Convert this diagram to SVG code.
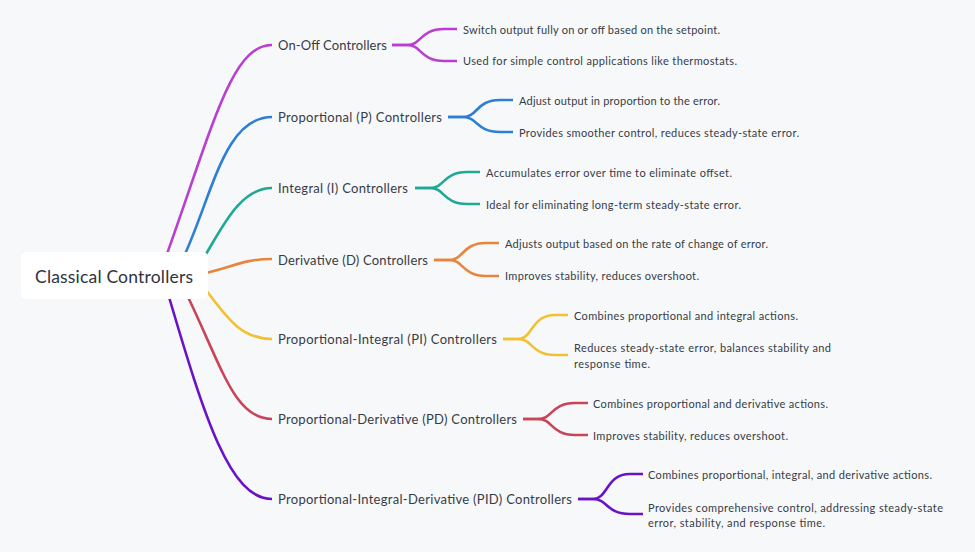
<svg xmlns="http://www.w3.org/2000/svg" width="975" height="552" viewBox="0 0 975 552">
  <style>
    .c { fill: none; stroke-width: 2.6; stroke-linecap: butt; stroke-linejoin: round; }
    .t1 { font-family: Lato, "Liberation Sans", sans-serif; font-size: 13px; fill: #363c47; dominant-baseline: central; }
    .t2 { font-family: Lato, "Liberation Sans", sans-serif; font-size: 11px; fill: #363c47; dominant-baseline: central; }
    .root { font-family: Lato, "Liberation Sans", sans-serif; font-size: 17.5px; fill: #2e343e; dominant-baseline: central; }
    .pu { stroke: #B93FD0; }
    .bl { stroke: #2E7FD4; }
    .te { stroke: #1FA896; }
    .or { stroke: #E8853D; }
    .ye { stroke: #F2C131; }
    .re { stroke: #C94458; }
    .dp { stroke: #6A12C6; }
  </style>
  <rect x="0" y="0" width="975" height="552" fill="#F7F8FA"/>
  <g id="connectors">
    <path class="c pu" d="M167,254 C214,122 232,45 272,45"/>
    <path class="c bl" d="M185,254 C213,192 225,117 272,117"/>
    <path class="c te" d="M206,254 C222,228 240,188 272,188"/>
    <path class="c or" d="M206,273 C235,266 245,259 272,259"/>
    <path class="c ye" d="M206,290 C225,315 240,339 272,339"/>
    <path class="c re" d="M188,297 C223,370 235,419 272,419"/>
    <path class="c dp" d="M169,297 C205,419 230,499 272,499"/>

    <path class="c pu" d="M392,45 L407,45 C422,45 420,29 444,29 L457,29"/>
    <path class="c pu" d="M392,45 L407,45 C422,45 420,61 444,61 L457,61"/>
    <path class="c bl" d="M448,117 L463,117 C478,117 476,100 500,100 L513,100"/>
    <path class="c bl" d="M448,117 L463,117 C478,117 476,132 500,132 L513,132"/>
    <path class="c te" d="M415,188 L430,188 C445,188 443,172 467,172 L480,172"/>
    <path class="c te" d="M415,188 L430,188 C445,188 443,204 467,204 L480,204"/>
    <path class="c or" d="M434,260 L449,260 C464,260 462,243 486,243 L499,243"/>
    <path class="c or" d="M434,260 L449,260 C464,260 462,276 486,276 L499,276"/>
    <path class="c ye" d="M503,339 L518,339 C533,339 531,315 555,315 L568,315"/>
    <path class="c ye" d="M503,339 L518,339 C533,339 531,355 555,355 L568,355"/>
    <path class="c re" d="M523,419 L538,419 C553,419 551,403 575,403 L588,403"/>
    <path class="c re" d="M523,419 L538,419 C553,419 551,435 575,435 L588,435"/>
    <path class="c dp" d="M578,499 L593,499 C608,499 606,474 630,474 L643,474"/>
    <path class="c dp" d="M578,499 L593,499 C608,499 606,514 630,514 L643,514"/>
  </g>

  <g id="root">
    <rect x="21" y="252" width="187" height="47" rx="5" fill="#FFFFFF"/>
    <text class="root" x="35" y="276" textLength="158">Classical Controllers</text>
  </g>

  <g id="onoff">
    <text class="t1" x="278" y="45" textLength="109">On-Off Controllers</text>
  </g>
  <g id="onoff-1"><text class="t2" x="463" y="29" textLength="257">Switch output fully on or off based on the setpoint.</text></g>
  <g id="onoff-2"><text class="t2" x="463" y="60" textLength="274">Used for simple control applications like thermostats.</text></g>

  <g id="p">
    <text class="t1" x="278" y="117" textLength="164">Proportional (P) Controllers</text>
  </g>
  <g id="p-1"><text class="t2" x="519" y="100" textLength="201">Adjust output in proportion to the error.</text></g>
  <g id="p-2"><text class="t2" x="519" y="132" textLength="280">Provides smoother control, reduces steady-state error.</text></g>

  <g id="i">
    <text class="t1" x="278" y="188" textLength="130">Integral (I) Controllers</text>
  </g>
  <g id="i-1"><text class="t2" x="486" y="172" textLength="246">Accumulates error over time to eliminate offset.</text></g>
  <g id="i-2"><text class="t2" x="486" y="204" textLength="255">Ideal for eliminating long-term steady-state error.</text></g>

  <g id="d">
    <text class="t1" x="278" y="260" textLength="150">Derivative (D) Controllers</text>
  </g>
  <g id="d-1"><text class="t2" x="505" y="243" textLength="263">Adjusts output based on the rate of change of error.</text></g>
  <g id="d-2"><text class="t2" x="505" y="275" textLength="194">Improves stability, reduces overshoot.</text></g>

  <g id="pi">
    <text class="t1" x="278" y="339" textLength="219">Proportional-Integral (PI) Controllers</text>
  </g>
  <g id="pi-1"><text class="t2" x="574" y="315" textLength="224">Combines proportional and integral actions.</text></g>
  <g id="pi-2">
    <text class="t2" x="574" y="347" textLength="257">Reduces steady-state error, balances stability and</text>
    <text class="t2" x="574" y="363" textLength="76">response time.</text>
  </g>

  <g id="pd">
    <text class="t1" x="278" y="419" textLength="239">Proportional-Derivative (PD) Controllers</text>
  </g>
  <g id="pd-1"><text class="t2" x="593" y="403" textLength="235">Combines proportional and derivative actions.</text></g>
  <g id="pd-2"><text class="t2" x="593" y="435" textLength="195">Improves stability, reduces overshoot.</text></g>

  <g id="pid">
    <text class="t1" x="278" y="499" textLength="294">Proportional-Integral-Derivative (PID) Controllers</text>
  </g>
  <g id="pid-1"><text class="t2" x="648" y="474" textLength="284">Combines proportional, integral, and derivative actions.</text></g>
  <g id="pid-2">
    <text class="t2" x="648" y="507" textLength="295">Provides comprehensive control, addressing steady-state</text>
    <text class="t2" x="648" y="522" textLength="177">error, stability, and response time.</text>
  </g>
</svg>
